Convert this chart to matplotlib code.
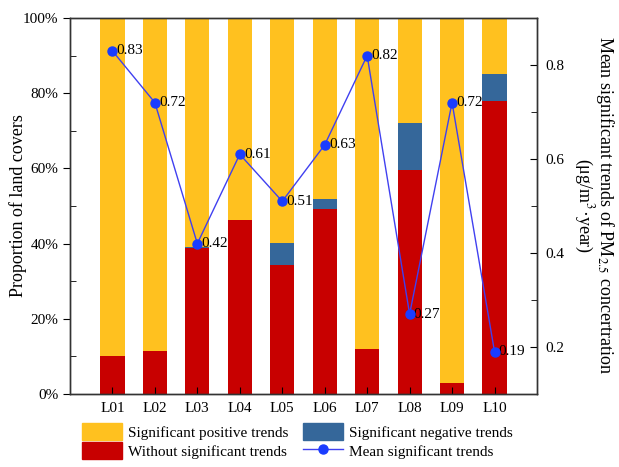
import matplotlib
matplotlib.use('Agg')
import matplotlib.pyplot as plt
import numpy as np
from matplotlib.ticker import MultipleLocator, PercentFormatter
from matplotlib.patches import Patch
from matplotlib.lines import Line2D

plt.rcParams['font.family'] = ['Liberation Serif', 'DejaVu Serif']
plt.rcParams['mathtext.fontset'] = 'stix'

### Data
classes = ['L01', 'L02', 'L03', 'L04', 'L05', 'L06', 'L07', 'L08', 'L09', 'L10']
without_trend = [10.0, 11.5, 38.7, 46.3, 34.3, 49.1, 12.1, 59.6, 2.8, 77.9]
negative_trend = [0.0, 0.0, 0.5, 0.0, 5.8, 2.8, 0.0, 12.4, 0.0, 7.2]
mean_trend = [0.83, 0.72, 0.42, 0.61, 0.51, 0.63, 0.82, 0.27, 0.72, 0.19]

positive_trend = [100 - a - b for a, b in zip(without_trend, negative_trend)]

c_yellow = '#FFC11F'
c_red = '#C80000'
c_blue = '#35679A'
c_line = '#4040F0'
c_mark = '#1A3CFF'

fig = plt.figure(figsize=(6.19, 4.67), dpi=100)
ax = fig.add_axes([0.113, 0.1563, 0.7545, 0.8052])

x = np.arange(1, len(classes) + 1)
w = 0.57
ax.bar(x, without_trend, w, color=c_red)
ax.bar(x, negative_trend, w, bottom=without_trend, color=c_blue)
bottom2 = [a + b for a, b in zip(without_trend, negative_trend)]
ax.bar(x, positive_trend, w, bottom=bottom2, color=c_yellow)

ax.set_xlim(0, 11)
ax.set_ylim(0, 100)
ax.set_xticks(x)
ax.set_xticklabels(classes, fontsize=11)
ax.yaxis.set_major_locator(MultipleLocator(20))
ax.yaxis.set_minor_locator(MultipleLocator(10))
ax.yaxis.set_major_formatter(PercentFormatter(decimals=0))
ax.tick_params(axis='y', which='major', direction='out', length=5, labelsize=11)
ax.tick_params(axis='y', which='minor', direction='in', length=4)
ax.tick_params(axis='x', which='major', direction='in', length=5, labelsize=11, pad=6)
ax.set_ylabel('Proportion of land covers', fontsize=13)
ax.yaxis.set_label_coords(-0.092, 0.5)
for s in ax.spines.values():
    s.set_color('#333333')
    s.set_linewidth(1.0)

ax2 = ax.twinx()
ax2.plot(x, mean_trend, '-', color=c_line, lw=1.0, marker='o', ms=6.5,
         mfc=c_mark, mec=c_mark, zorder=5)
for xi, v in zip(x, mean_trend):
    ax2.text(xi + 0.1, v, '%.2f' % v, fontsize=11, va='center', ha='left')
ax2.set_ylim(0.1, 0.9)
ax2.yaxis.set_minor_locator(MultipleLocator(0.1))
ax2.set_yticks([0.2, 0.4, 0.6, 0.8])
ax2.set_yticklabels(['0.2', '0.4', '0.6', '0.8'])
ax2.tick_params(axis='y', which='major', direction='in', length=5, labelsize=11, pad=6)
ax2.tick_params(axis='y', which='minor', direction='in', length=4)
for s in ax2.spines.values():
    s.set_color('#333333')
    s.set_linewidth(1.0)

### right label placed by hand, two lines
fig.text(0.977, 0.5603, 'Mean significant trends of PM$_{2.5}$ concertration',
         fontsize=13, rotation=270, ha='center', va='center')
fig.text(0.942, 0.5603, '(μg/m$^3$·year)',
         fontsize=13, rotation=270, ha='center', va='center')

handles = [Patch(color=c_yellow), Patch(color=c_red), Patch(color=c_blue),
           Line2D([], [], color=c_line, lw=1.0, marker='o', ms=6.5, mfc=c_mark, mec=c_mark)]
labels = ['Significant positive trends', 'Without significant trends',
          'Significant negative trends', 'Mean significant trends']
fig.legend(handles, labels, ncol=2, loc='upper left', bbox_to_anchor=(0.12, 0.11),
           frameon=False, fontsize=11, handlelength=2.6, handleheight=1.35,
           handletextpad=0.4, columnspacing=1.0, labelspacing=0.12, borderpad=0)

fig.savefig('out.png', dpi=100)
